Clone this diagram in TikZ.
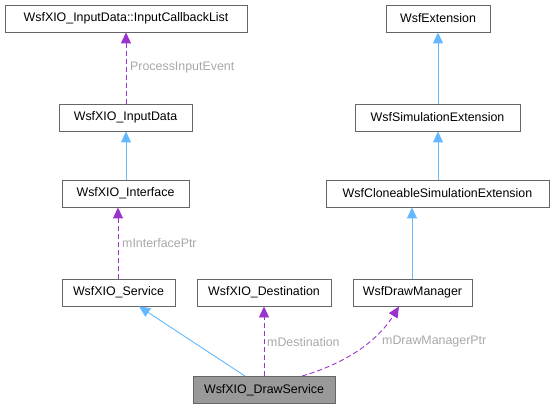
\documentclass[tikz,border=0pt]{standalone}
\usepackage{fontspec}
\setmainfont{Liberation Sans}
\usetikzlibrary{arrows.meta}
\definecolor{boxline}{HTML}{666666}
\definecolor{inh}{HTML}{63B8FF}
\definecolor{use}{HTML}{9A32CD}
\definecolor{lbl}{HTML}{A8A8A8}
\tikzset{
  cls/.style={draw=boxline, line width=0.9pt, fill=white, inner sep=0pt, font=\fontsize{12.4}{14}\selectfont, text=black},
  inhar/.style={draw=inh, line width=0.9pt, -{Triangle[length=11pt,width=10pt,fill=inh]}},
  usear/.style={draw=use, line width=0.9pt, dash pattern=on 5pt off 3pt, -{Triangle[length=11pt,width=10pt,fill=use]}},
  elbl/.style={text=lbl, font=\fontsize{12.4}{14}\selectfont, inner sep=1pt},
}
\begin{document}
\begin{tikzpicture}[x=1pt,y=-1pt]
\useasboundingbox (0,0) rectangle (555,409);
\node[cls, minimum width=242pt, minimum height=27pt] (icl) at (126,18.5) {WsfXIO\_InputData::InputCallbackList};
\node[cls, minimum width=133pt, minimum height=27pt] (idata) at (125.5,117.5) {WsfXIO\_InputData};
\node[cls, minimum width=127pt, minimum height=27pt] (iface) at (125.5,193.5) {WsfXIO\_Interface};
\node[cls, minimum width=113pt, minimum height=27pt] (svc) at (118.5,292.5) {WsfXIO\_Service};
\node[cls, minimum width=134pt, minimum height=27pt] (dest) at (264,292.5) {WsfXIO\_Destination};
\node[cls, minimum width=119pt, minimum height=27pt] (dm) at (412.5,292.5) {WsfDrawManager};
\node[cls, minimum width=142pt, minimum height=27pt, fill={rgb,255:red,153;green,153;blue,153}] (ds) at (264,390) {WsfXIO\_DrawService};
\node[cls, minimum width=104pt, minimum height=27pt] (ext) at (438,18.5) {WsfExtension};
\node[cls, minimum width=165pt, minimum height=27pt] (sim) at (437.5,117.5) {WsfSimulationExtension};
\node[cls, minimum width=223pt, minimum height=27pt] (clo) at (437.5,193.5) {WsfCloneableSimulationExtension};

\draw[usear] (idata.north -| 126,0) -- (icl.south -| 126,0);
\node[elbl, anchor=west] (l1) at (129,68) {ProcessInputEvent};
\draw[inhar] (iface.north -| 126,0) -- (idata.south -| 126,0);
\draw[usear] (svc.north -| 118,0) -- (iface.south -| 118,0);
\node[elbl, anchor=west] (l2) at (121,243) {mInterfacePtr};
\draw[inhar] (sim.north -| 438,0) -- (ext.south -| 438,0);
\draw[inhar] (clo.north -| 438,0) -- (sim.south -| 438,0);
\draw[inhar] (dm.north -| 412,0) -- (clo.south -| 412,0);
\draw[inhar] (ds.north -| 245,0) -- (svc.south -| 139,0);
\draw[usear] (ds.north -| 264,0) -- (dest.south -| 264,0);
\node[elbl, anchor=west] (l3) at (266,342) {mDestination};
\draw[usear] (ds.north -| 302,0) .. controls (340,365) and (375,345) .. (dm.south -| 399,0);
\node[elbl, anchor=west] (l4) at (381,342) {mDrawManagerPtr};
\end{tikzpicture}
\end{document}
